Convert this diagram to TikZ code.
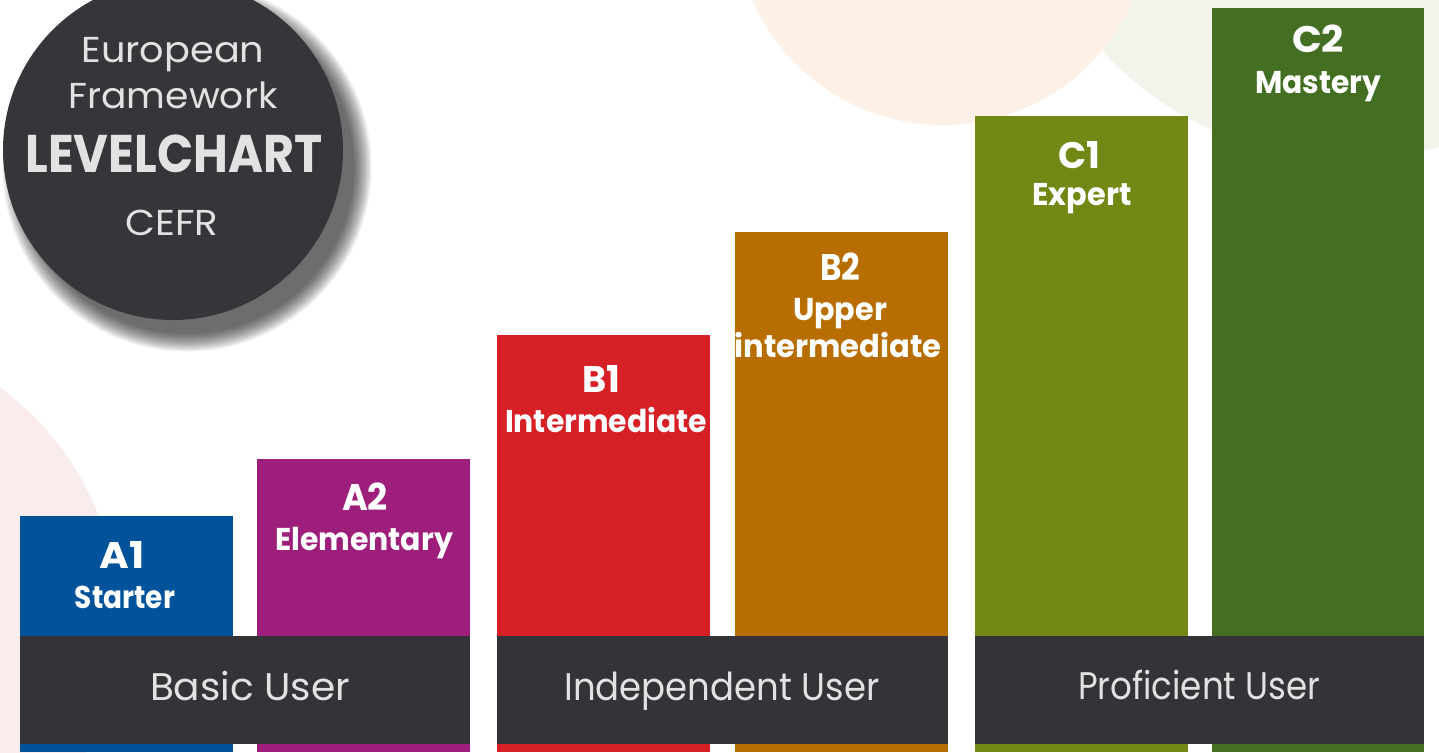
\documentclass[tikz,border=0pt]{standalone}
\usepackage{fontspec}
\usepackage{graphicx}
\setmainfont{Poppins}
\definecolor{a1c}{HTML}{00539B}
\definecolor{a2c}{HTML}{9E1F7B}
\definecolor{b1c}{HTML}{D71F26}
\definecolor{b2c}{HTML}{B86D00}
\definecolor{c1c}{HTML}{718815}
\definecolor{c2c}{HTML}{446F22}
\definecolor{bandc}{HTML}{333338}
\definecolor{badgec}{HTML}{36363A}
\definecolor{bandtxt}{HTML}{E2E2E2}
\definecolor{peach}{HTML}{FDF0E6}
\definecolor{lgreen}{HTML}{F1F4EA}
\definecolor{lpink}{HTML}{F9ECEC}
\newcommand\fw[2]{\resizebox{#1pt}{\height}{#2}}
\begin{document}
\begin{tikzpicture}[x=1pt,y=-1pt,
  bar/.style={fill=#1, draw=none, inner sep=0pt, outer sep=0pt, anchor=north west, minimum width=213pt},
  band/.style={fill=bandc, draw=none, inner sep=0pt, outer sep=0pt, anchor=north west, minimum height=108pt},
  code/.style={text=white, font=\fontsize{37}{37}\selectfont\bfseries, inner sep=0pt, anchor=base},
  lname/.style={text=white, font=\fontsize{31.5}{31.5}\selectfont\bfseries, inner sep=0pt, anchor=base},
  bandtext/.style={text=bandtxt, font=\fontsize{38.5}{38.5}\selectfont, inner sep=0pt, anchor=base},
  badgetext/.style={text=bandtxt, font=\fontsize{36}{36}\selectfont, inner sep=0pt, anchor=base},
  badgebig/.style={text=bandtxt, font=\fontsize{53}{53}\selectfont\bfseries, inner sep=0pt, anchor=base}]
\useasboundingbox (0,0) rectangle (1439,752);
% background circles
\fill[lgreen] (1349,-177) circle (336pt);
\fill[peach] (943,-83) circle (208pt);
\fill[lpink] (-170,620) circle (288pt);
% badge shadow
\foreach \i in {0,...,13} \fill[black,opacity=0.06] (187,167) circle ({167pt+\i*1.35pt});
\node[circle, fill=badgec, minimum size=340pt, inner sep=0pt] (badge) at (173,150) {};
\node[badgetext] (eu) at (173,63) {\fw{183}{European}};
\node[badgetext] (fr) at (173,108) {\fw{209}{Framework}};
\node[badgebig] (lc) at (174,172) {\fw{297}{LEVELCHART}};
\node[badgetext] (cefr) at (172,235) {\fw{93}{CEFR}};
% bars
\node[bar=a1c, minimum height=236pt] (a1) at (20,516) {};
\node[bar=a2c, minimum height=293pt] (a2) at (257,459) {};
\node[bar=b1c, minimum height=417pt] (b1) at (497,335) {};
\node[bar=b2c, minimum height=520pt] (b2) at (735,232) {};
\node[bar=c1c, minimum height=636pt] (c1) at (975,116) {};
\node[bar=c2c, minimum height=744pt, minimum width=212pt] (c2) at (1212,8) {};
% bar labels
\node[code] (a1t) at (122,568) {\fw{45}{A1}};
\node[lname] (a1n) at (125,608) {\fw{100}{Starter}};
\node[code] (a2t) at (365,510) {\fw{46}{A2}};
\node[lname] (a2n) at (364,550) {\fw{178}{Elementary}};
\node[code] (b1t) at (601,392) {\fw{38}{B1}};
\node[lname] (b1n) at (606,432) {\fw{202}{Intermediate}};
\node[code] (b2t) at (840,280) {\fw{40}{B2}};
\node[lname] (b2n) at (840,320) {\fw{94}{Upper}};
\node[lname] (b2m) at (838,357) {\fw{207}{intermediate}};
\node[code] (c1t) at (1079,168) {\fw{42}{C1}};
\node[lname] (c1n) at (1082,205) {\fw{99}{Expert}};
\node[code] (c2t) at (1318,53) {\fw{52}{C2}};
\node[lname] (c2n) at (1318,93) {\fw{126}{Mastery}};
% bands
\node[band, minimum width=450pt] (basic) at (20,636) {};
\node[band, minimum width=451pt] (indep) at (497,636) {};
\node[band, minimum width=449pt] (prof) at (975,636) {};
\node[bandtext] (basict) at (250,700) {\fw{200}{Basic User}};
\node[bandtext] (indept) at (722,700) {\fw{315}{Independent User}};
\node[bandtext] (proft) at (1199,699) {\fw{242}{Proficient User}};
\end{tikzpicture}
\end{document}
